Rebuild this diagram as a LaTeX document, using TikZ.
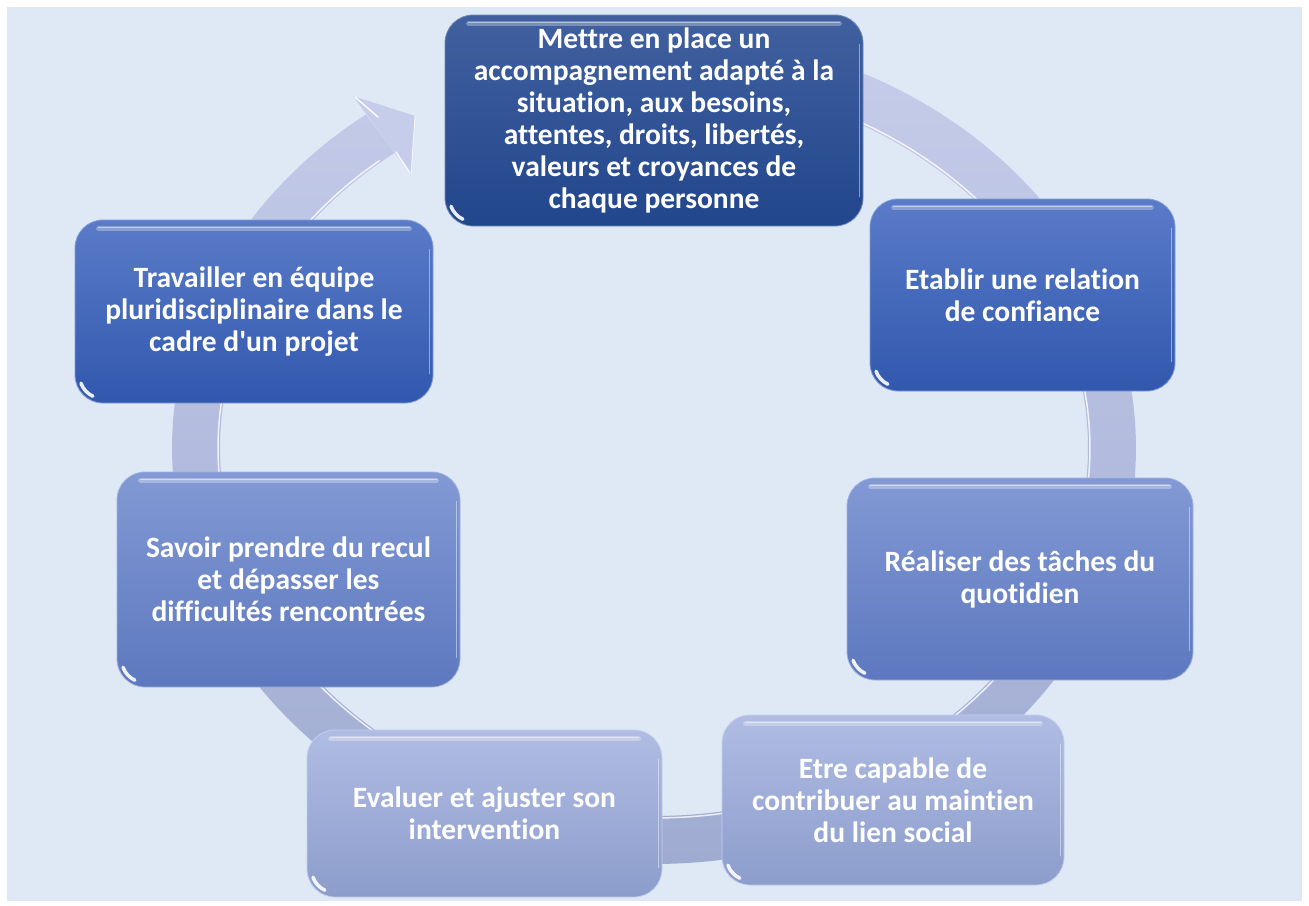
\documentclass[tikz,border=0pt]{standalone}
\usepackage{fontspec}
\newfontfamily\carl{Carlito}[Ligatures=NoCommon]
\definecolor{bgblue}{HTML}{DEE9F5}
\definecolor{ringT}{HTML}{C6CDEA}
\definecolor{ringB}{HTML}{A0ABD2}
\definecolor{aT}{HTML}{41609F}
\definecolor{aB}{HTML}{22468C}
\definecolor{bT}{HTML}{5A7BC8}
\definecolor{bB}{HTML}{3158AE}
\definecolor{cT}{HTML}{8299D4}
\definecolor{cB}{HTML}{5D78BF}
\definecolor{dT}{HTML}{B0BCE3}
\definecolor{dB}{HTML}{8C9DCC}
\tikzset{
  box/.style 2 args={rectangle, rounded corners=28pt, top color=#1, bottom color=#2,
    draw=#1!75!white, line width=0.8pt, text=white, align=center, inner sep=0pt,
    font=\carl\fontsize{29.5}{32}\selectfont\bfseries},
  gloss/.style={white, line cap=round}
}
\newcommand\boxgloss[1]{%
  \draw[gloss, opacity=.3, line width=5pt] ([xshift=24pt,yshift=-9pt]#1.north west) -- ([xshift=-24pt,yshift=-9pt]#1.north east);
  \draw[gloss, opacity=.45, line width=1.5pt] ([xshift=24pt,yshift=-8pt]#1.north west) -- ([xshift=-24pt,yshift=-8pt]#1.north east);
  \draw[gloss, opacity=.45, line width=1.5pt] ([xshift=-4pt,yshift=-30pt]#1.north east) -- ([xshift=-4pt,yshift=30pt]#1.south east);
  \draw[gloss, opacity=.9, line width=3.5pt] ([xshift=28pt,yshift=28pt]#1.south west) ++(200:23pt) arc[start angle=200, end angle=245, radius=23pt];
}
\begin{document}
\begin{tikzpicture}[x=1pt, y=-1pt]
\useasboundingbox (0,0) rectangle (1309,905);
\fill[white] (0,0) rectangle (1309,905);
\fill[bgblue] (7,7) rectangle (1302,901);

% circular arrow
\shade[top color=ringT, bottom color=ringB]
  plot[domain=-80:233.3, samples=120, smooth] ({654+482*cos(\x)},{448+416*sin(\x)})
  -- plot[domain=233.3:-80, samples=120, smooth] ({654+434*cos(\x)},{448+368*sin(\x)}) -- cycle;
\draw[white, line width=1.5pt, opacity=.8]
  plot[domain=-80:231, samples=120, smooth] ({654+436*cos(\x)},{448+370*sin(\x)});
\fill[ringT] (353,96) -- (415,116) -- (411,175) -- cycle;
\draw[white, line width=1.5pt, opacity=.9, line cap=round] (355,97) -- (378,117);
\draw[white, line width=1.5pt, opacity=.9, line cap=round] (410,173) -- (396,152);
\draw[white, line width=1pt, opacity=.7] (415,116) -- (411,175);

% boxes
\node[box={aT}{aB}, minimum width=418pt, minimum height=211pt] (n1) at (654,120.5)
  {Mettre en place un\\accompagnement adapté à la\\situation, aux besoins,\\attentes, droits, libertés,\\valeurs et croyances de\\chaque personne};
\node[box={bT}{bB}, minimum width=305pt, minimum height=192pt] (n2) at (1022.5,295)
  {Etablir une relation\\de confiance};
\node[box={cT}{cB}, minimum width=346pt, minimum height=202pt] (n3) at (1020,579)
  {Réaliser des tâches du\\quotidien};
\node[box={dT}{dB}, minimum width=342pt, minimum height=170pt] (n4) at (893,800)
  {Etre capable de\\contribuer au maintien\\du lien social};
\node[box={dT}{dB}, minimum width=355pt, minimum height=167pt] (n5) at (484.5,813.5)
  {Evaluer et ajuster son\\intervention};
\node[box={cT}{cB}, minimum width=343pt, minimum height=215pt] (n6) at (288.5,579.5)
  {Savoir prendre du recul\\et dépasser les\\difficultés rencontrées};
\node[box={bT}{bB}, minimum width=358pt, minimum height=183pt] (n7) at (254,311.5)
  {Travailler en équipe\\pluridisciplinaire dans le\\cadre d'un projet};
\boxgloss{n1}\boxgloss{n2}\boxgloss{n3}\boxgloss{n4}\boxgloss{n5}\boxgloss{n6}\boxgloss{n7}
\end{tikzpicture}
\end{document}
